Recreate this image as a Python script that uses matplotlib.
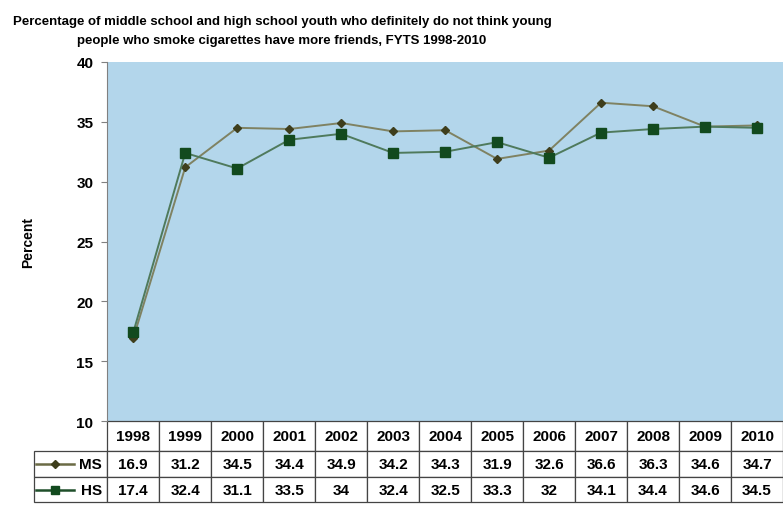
import numpy as np
import matplotlib
matplotlib.use("Agg")
import matplotlib.pyplot as plt
from matplotlib.lines import Line2D

years = ["1998", "1999", "2000", "2001", "2002", "2003", "2004",
         "2005", "2006", "2007", "2008", "2009", "2010"]
ms = [16.9, 31.2, 34.5, 34.4, 34.9, 34.2, 34.3, 31.9, 32.6, 36.6, 36.3, 34.6, 34.7]
hs = [17.4, 32.4, 31.1, 33.5, 34, 32.4, 32.5, 33.3, 32, 34.1, 34.4, 34.6, 34.5]
yticks = [10, 15, 20, 25, 30, 35, 40]

plt.rcParams["font.family"] = ["Liberation Sans", "DejaVu Sans"]
plt.rcParams["font.weight"] = "bold"

fig = plt.figure(figsize=(7.83, 5.06), dpi=100)
ax = fig.add_axes([0.137, 0.166, 0.863, 0.7095])
ax.set_facecolor("#B3D6EB")

x = np.arange(len(years))
ax.plot(x, ms, color="#7F8262", lw=1.4, marker="D", ms=4.5,
        mfc="#3E3E1C", mec="#3E3E1C", zorder=3)
ax.plot(x, hs, color="#4F7A5C", lw=1.4, marker="s", ms=6.5,
        mfc="#124A1E", mec="#124A1E", zorder=3)

ax.set_xlim(-0.5, len(years) - 0.5)
ax.set_ylim(10, 40)
ax.set_yticks(yticks)
ax.set_yticklabels([str(t) for t in yticks], fontsize=11, fontweight="bold")
ax.set_xticks([])
for s in ["top", "right", "bottom"]:
    ax.spines[s].set_visible(False)
ax.spines["left"].set_color("#808080")
ax.tick_params(axis="y", direction="out", length=4, color="#808080", pad=6)

ax.set_ylabel("Percent", fontsize=10, fontweight="bold", labelpad=30)

fig.text(0.36, 0.938,
         "Percentage of middle school and high school youth who definitely do not think young\n"
         "people who smoke cigarettes have more friends, FYTS 1998-2010",
         ha="center", va="center", fontsize=9.5, fontweight="bold",
         linespacing=1.7)

# data table under the plot
first_w = 73 / 675 * len(years)
col_w = [first_w] + [1.0] * len(years)
total_w = sum(col_w)
rows = [[""] + years,
        ["MS"] + [f"{v:g}" for v in ms],
        ["HS"] + [f"{v:g}" for v in hs]]
row_px = [30, 26, 25]
tab_h = 81 / 359
left = -first_w / len(years)
tbl = ax.table(cellText=rows, colWidths=[w / total_w for w in col_w],
               bbox=[left, -tab_h, 1 - left, tab_h], cellLoc="center")
tbl.auto_set_font_size(False)
tbl.set_fontsize(11)
for (r, c), cell in tbl.get_celld().items():
    cell.set_height(row_px[r] / 100)
    cell.set_edgecolor("#444444")
    cell.set_linewidth(0.9)
    cell.set_facecolor("white")
    cell.get_text().set_fontweight("bold")
    if r == 0 and c == 0:
        cell.visible_edges = ""
    if c == 0 and r > 0:
        cell.get_text().set_ha("right")
        cell.PAD = 0.07

# legend glyphs in the row labels
lx0 = left + 2 / 675
lx1 = left + 40 / 675
row_tops = np.cumsum([0] + row_px) / sum(row_px) * tab_h
for i, (lc, mk, mc, msz) in enumerate([("#6B6B45", "D", "#3E3E1C", 4),
                                        ("#1F4F2A", "s", "#124A1E", 5.5)]):
    yy = -(row_tops[i + 1] + row_tops[i + 2]) / 2
    ax.add_line(Line2D([lx0, lx1], [yy, yy], transform=ax.transAxes,
                       color=lc, lw=1.8, clip_on=False))
    ax.add_line(Line2D([(lx0 + lx1) / 2], [yy], transform=ax.transAxes,
                       marker=mk, ms=msz, mfc=mc, mec=mc, ls="none",
                       clip_on=False))

fig.savefig("out.png", dpi=100)
